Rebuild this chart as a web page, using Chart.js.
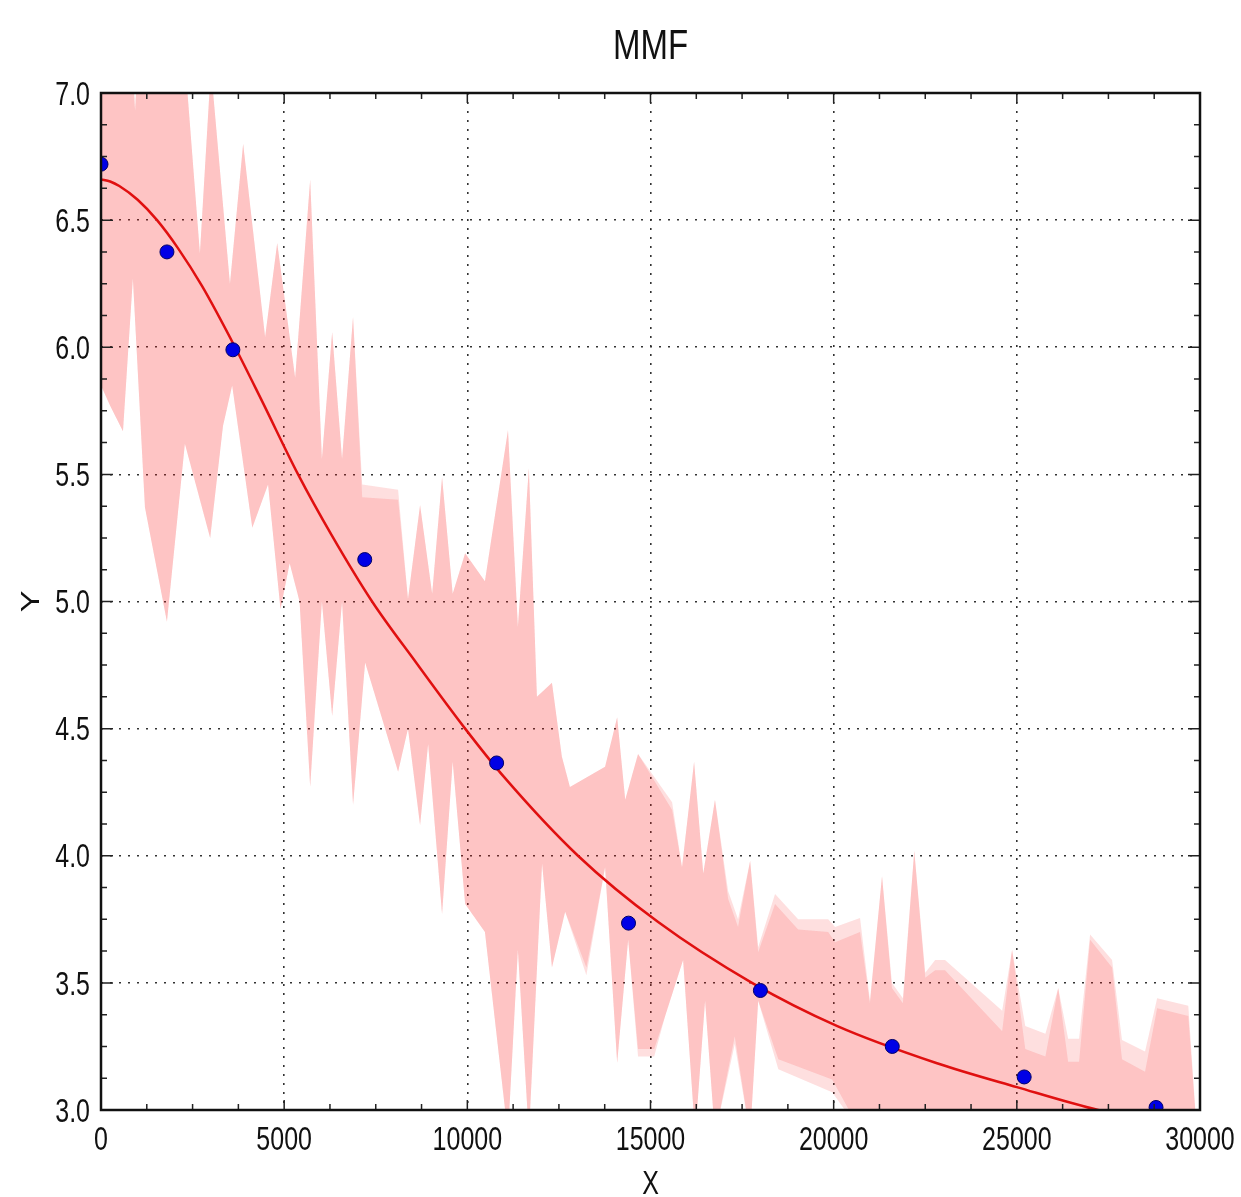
<!DOCTYPE html>
<html>
<head>
<meta charset="utf-8">
<script src="https://cdn.jsdelivr.net/npm/chart.js@4.4.1/dist/chart.umd.min.js"></script>
<style>
  html, body { margin: 0; padding: 0; background: #ffffff; }
  #wrap { width: 1241px; height: 1197px; }
</style>
</head>
<body>
<div id="wrap"><canvas id="mmf" width="1241" height="1197"></canvas></div>
<script>
/* observed points */
const pointX = [0, 1800, 3600, 7200, 10800, 14400, 18000, 21600, 25200, 28800];
const pointY = [6.72, 6.375, 5.99, 5.165, 4.365, 3.735, 3.47, 3.25, 3.13, 3.01];

/* MMF fitted curve */
const curveX = [0, 250, 500, 1000, 1530, 2100, 2760, 3660, 4390, 5380, 6300, 7400, 8600, 9940, 11000, 13020, 15200, 17770, 20100, 22800, 25000, 27220, 30000];
const curveY = [6.66, 6.652, 6.634, 6.58, 6.50, 6.39, 6.24, 6.00, 5.79, 5.50, 5.26, 5.00, 4.76, 4.50, 4.31, 4.00, 3.74, 3.50, 3.33, 3.185, 3.09, 3.00, 2.92];

/* band: upper edge (inner / outer) */
const upperX = [0, 800, 930, 1060, 2200, 2700, 3000, 3520, 3880, 4480, 4810, 5300, 5710, 6030, 6310, 6580, 6880,
  7130, 8110, 8380, 8710, 9040, 9310, 9600, 9940, 10480, 11110, 11380, 11680, 11900, 12310, 12580, 12800, 13760,
  14090, 14310, 14660, 15590, 15860, 16190, 16440, 16760, 17120, 17390, 17720, 17940, 18400, 19030, 19850, 20040,
  20720, 20990, 21320, 21590, 21890, 22200, 22500, 22770, 23040, 24600, 24870, 25230, 25780, 26130, 26400, 26700,
  27000, 27600, 27870, 28500, 28830, 29680, 29920, 30000];
const upperIn = [7.3, 7.3, 6.93, 7.3, 7.3, 6.37, 7.1, 6.25, 6.80, 6.04, 6.41, 5.88, 6.66, 5.56, 6.06, 5.56, 6.12,
  5.41, 5.40, 5.01, 5.38, 5.03, 5.49, 5.03, 5.19, 5.08, 5.675, 4.90, 5.525, 4.625, 4.68, 4.39, 4.27, 4.35,
  4.545, 4.22, 4.40, 4.18, 3.955, 4.37, 3.93, 4.22, 3.83, 3.72, 3.98, 3.62, 3.81, 3.71, 3.70, 3.66,
  3.70, 3.42, 3.92, 3.48, 3.42, 4.02, 3.52, 3.55, 3.55, 3.31, 3.63, 3.24, 3.21, 3.48, 3.19, 3.19,
  3.67, 3.56, 3.20, 3.15, 3.40, 3.37, 2.9, 2.9];
const upperOut = [7.3, 7.3, 6.93, 7.3, 7.3, 6.37, 7.1, 6.25, 6.80, 6.04, 6.41, 5.88, 6.66, 5.56, 6.06, 5.56, 6.12,
  5.46, 5.44, 5.01, 5.38, 5.03, 5.49, 5.03, 5.19, 5.08, 5.675, 4.90, 5.525, 4.625, 4.68, 4.39, 4.27, 4.35,
  4.545, 4.22, 4.40, 4.21, 3.955, 4.37, 3.93, 4.22, 3.86, 3.75, 3.98, 3.64, 3.85, 3.75, 3.75, 3.72,
  3.755, 3.43, 3.92, 3.50, 3.44, 4.02, 3.54, 3.59, 3.59, 3.39, 3.63, 3.33, 3.30, 3.48, 3.28, 3.28,
  3.69, 3.59, 3.275, 3.23, 3.44, 3.41, 2.9, 2.9];

/* band: lower edge (inner / outer) */
const lowerX = [0, 250, 600, 870, 1200, 1800, 2290, 2980, 3330, 3580, 4130, 4560, 4900, 5150, 5420, 5710, 6030,
  6310, 6580, 6880, 7210, 8110, 8380, 8710, 8930, 9310, 9600, 9940, 10480, 11110, 11380, 11680, 12040, 12310,
  12670, 13250, 13760, 14090, 14390, 14660, 15100, 15400, 15890, 16220, 16490, 16760, 17300, 17720, 17940,
  18490, 19960, 20800, 30000];
const lowerIn = [5.85, 5.77, 5.67, 6.27, 5.37, 4.92, 5.62, 5.25, 5.69, 5.85, 5.29, 5.46, 4.97, 5.15, 5.0, 4.27, 5.0,
  4.55, 5.0, 4.20, 4.76, 4.33, 4.50, 4.12, 4.44, 3.77, 4.37, 3.81, 3.70, 2.9, 3.63, 2.9, 3.97, 3.56,
  3.78, 3.56, 3.955, 3.185, 3.67, 3.24, 3.24, 3.37, 3.59, 2.9, 3.43, 2.9, 3.29, 2.9, 3.43,
  3.20, 3.12, 2.9, 2.9];
const lowerOut = [5.85, 5.77, 5.67, 6.27, 5.37, 4.92, 5.62, 5.25, 5.69, 5.85, 5.29, 5.46, 4.97, 5.15, 5.0, 4.27, 5.0,
  4.55, 5.0, 4.20, 4.76, 4.33, 4.50, 4.12, 4.44, 3.77, 4.37, 3.81, 3.70, 2.9, 3.63, 2.9, 3.97, 3.56,
  3.78, 3.53, 3.955, 3.185, 3.67, 3.21, 3.21, 3.37, 3.59, 2.9, 3.43, 2.9, 3.26, 2.9, 3.43,
  3.16, 3.07, 2.9, 2.9];

/* axes */
const xTickValues = [0, 5000, 10000, 15000, 20000, 25000, 30000];
const xTickLabels = ["0", "5000", "10000", "15000", "20000", "25000", "30000"];
const yTickValues = [3.0, 3.5, 4.0, 4.5, 5.0, 5.5, 6.0, 6.5, 7.0];
const yTickLabels = ["3.0", "3.5", "4.0", "4.5", "5.0", "5.5", "6.0", "6.5", "7.0"];
const titleText = "MMF";
const xTitle = "X";
const yTitle = "Y";

const FONT = "'Liberation Sans', Arial, sans-serif";
const STRETCH = 1.3; // the source picture's lettering is drawn tall and narrow

function xy(xs, ys) {
  return xs.map((v, i) => ({ x: v, y: ys[i] }));
}
/* closed outline: upper edge left to right, lower edge back */
function bandShape(upY, lowY) {
  return xy(upperX, upY).concat(xy(lowerX, lowY).reverse());
}

/* tall lettering: cx/cy is the centre of the capitals */
function tallText(ctx, text, cx, cy, size, align, rotate) {
  ctx.save();
  ctx.translate(cx, cy);
  ctx.scale(1, STRETCH);
  if (rotate) ctx.rotate(-Math.PI / 2);
  ctx.font = size + "px " + FONT;
  ctx.fillStyle = "#111";
  ctx.textAlign = align;
  ctx.textBaseline = "alphabetic";
  ctx.fillText(text, 0, 0.358 * size);
  ctx.restore();
}

/* frame, inward ticks, labels and titles */
const frameTicks = {
  id: "frameTicks",
  afterDraw(chart) {
    const { ctx, chartArea: a, scales } = chart;
    const x = scales.x, y = scales.y;
    ctx.save();
    ctx.strokeStyle = "#222";
    ctx.lineWidth = 1.5;
    ctx.beginPath();
    for (let v = 0; v <= 30000; v += 1250) {
      const px = x.getPixelForValue(v);
      const len = v % 5000 === 0 ? 10 : 6;
      ctx.moveTo(px, a.bottom); ctx.lineTo(px, a.bottom - len);
      ctx.moveTo(px, a.top); ctx.lineTo(px, a.top + len);
    }
    for (let k = 0; k <= 32; k++) {
      const py = y.getPixelForValue(3 + k * 0.125);
      const len = k % 4 === 0 ? 12 : 6;
      ctx.moveTo(a.left, py); ctx.lineTo(a.left + len, py);
      ctx.moveTo(a.right, py); ctx.lineTo(a.right - len, py);
    }
    ctx.stroke();
    ctx.lineWidth = 2.5;
    ctx.strokeStyle = "#111";
    ctx.strokeRect(a.left, a.top, a.width, a.height);
    ctx.restore();

    xTickValues.forEach((v, i) => {
      tallText(ctx, xTickLabels[i], x.getPixelForValue(v), a.bottom + 28, 25, "center");
    });
    yTickValues.forEach((v, i) => {
      tallText(ctx, yTickLabels[i], a.left - 11, y.getPixelForValue(v), 25, "right");
    });
    tallText(ctx, titleText, (a.left + a.right) / 2, 43.5, 33, "center");
    tallText(ctx, xTitle, (a.left + a.right) / 2, 1182, 25, "center");
    tallText(ctx, yTitle, 30, (a.top + a.bottom) / 2, 25, "center", true);
  }
};

const ctx = document.getElementById("mmf").getContext("2d");
new Chart(ctx, {
  type: "scatter",
  data: {
    datasets: [
      {
        label: "points",
        data: xy(pointX, pointY),
        pointRadius: 7,
        pointBackgroundColor: "#0000e6",
        pointBorderColor: "#000066",
        pointBorderWidth: 1,
        clip: 0,
        order: 0
      },
      {
        label: "MMF",
        data: xy(curveX, curveY),
        showLine: true,
        pointRadius: 0,
        borderColor: "#e01010",
        borderWidth: 2.5,
        cubicInterpolationMode: "monotone",
        order: 1
      },
      {
        label: "inner band",
        data: bandShape(upperIn, lowerIn),
        showLine: true,
        pointRadius: 0,
        borderWidth: 0,
        fill: "shape",
        backgroundColor: "rgba(245, 30, 30, 0.14)",
        order: 2
      },
      {
        label: "outer band",
        data: bandShape(upperOut, lowerOut),
        showLine: true,
        pointRadius: 0,
        borderWidth: 0,
        fill: "shape",
        backgroundColor: "rgba(245, 30, 30, 0.14)",
        order: 3
      }
    ]
  },
  options: {
    responsive: false,
    animation: false,
    devicePixelRatio: 1,
    layout: { padding: { left: 0, right: 41, top: 93, bottom: 0 } },
    plugins: {
      legend: { display: false },
      tooltip: { enabled: false },
      title: { display: false }
    },
    scales: {
      x: {
        type: "linear",
        min: 0,
        max: 30000,
        afterBuildTicks: (s) => { s.ticks = xTickValues.map((v) => ({ value: v })); },
        afterFit: (s) => { s.height = 87; s.paddingLeft = 0; s.paddingRight = 0; },
        grid: { color: "#333", lineWidth: 1.6, drawTicks: false, borderDash: [2, 7] },
        border: { display: false, dash: [2, 7] },
        ticks: { display: false }
      },
      y: {
        type: "linear",
        min: 3,
        max: 7,
        afterBuildTicks: (s) => { s.ticks = yTickValues.map((v) => ({ value: v })); },
        afterFit: (s) => { s.width = 101; s.paddingTop = 0; s.paddingBottom = 0; },
        grid: { color: "#333", lineWidth: 1.6, drawTicks: false, borderDash: [2, 7] },
        border: { display: false, dash: [2, 7] },
        ticks: { display: false }
      }
    }
  },
  plugins: [frameTicks]
});
</script>
</body>
</html>
